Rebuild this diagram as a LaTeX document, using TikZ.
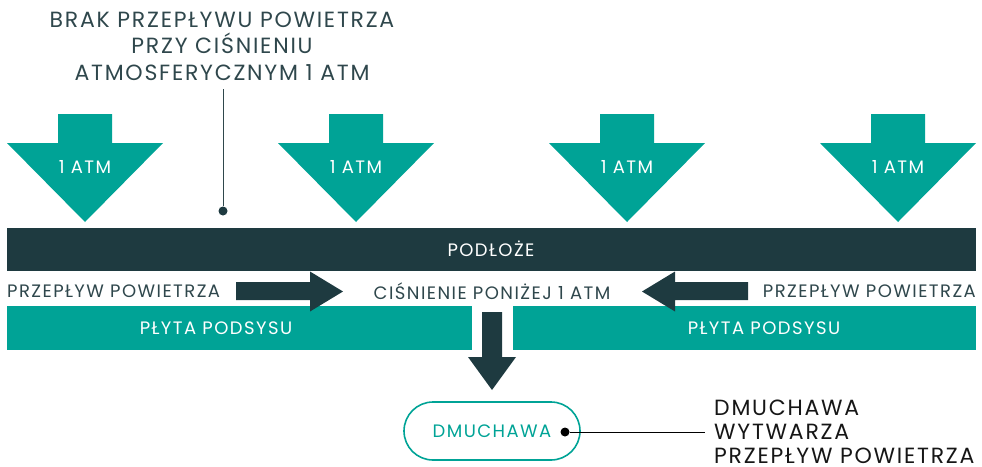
\documentclass[tikz,border=0pt]{standalone}
\usepackage{fontspec}
\setmainfont{Poppins}[LetterSpace=8]
\definecolor{slate}{HTML}{1E3A40}
\definecolor{teal}{HTML}{00A396}
\definecolor{labelgray}{HTML}{2F474C}
\definecolor{inkblack}{HTML}{161616}
\tikzset{
  darkfill/.style={fill=slate,draw=none},
  tealfill/.style={fill=teal,draw=none},
  whitelabel/.style={text=white,font=\fontsize{18}{21}\selectfont,inner sep=0pt},
  graylabel/.style={text=labelgray,font=\fontsize{18}{21}\selectfont,inner sep=0pt},
  callout/.style={align=center,text=labelgray,font=\fontsize{22}{26.5}\selectfont,inner sep=0pt},
  note/.style={align=left,text=inkblack,font=\fontsize{22}{24}\selectfont,inner sep=0pt},
  pill/.style={draw=teal,line width=1.6pt,rounded corners=29pt,minimum width=176pt,minimum height=58pt,text=teal,font=\fontsize{18}{21}\selectfont,inner sep=0pt},
  leader/.style={line width=0.9pt},
  pin/.style={circle,fill,inner sep=0pt,minimum size=9pt}
}
\begin{document}
\begin{tikzpicture}[x=1pt,y=-1pt]
\useasboundingbox (0,0) rectangle (982,466);

% atmospheric pressure arrows
\foreach \cx/\nm in {85/a1,356/a2,627/a3,898/a4}{
  \fill[teal] (\cx-27,114) -- (\cx+27,114) -- (\cx+27,143) -- (\cx+78,143)
    -- (\cx,222) -- (\cx-78,143) -- (\cx-27,143) -- cycle;
  \node[whitelabel] (\nm) at (\cx,167) {1 ATM};
}

% substrate
\fill[slate] (7,228) rectangle (976,271);
\node[whitelabel] (sub) at (491,249) {PODŁOŻE};

% suction plates
\fill[teal] (7,306) rectangle (472,350);
\fill[teal] (513,306) rectangle (976,350);
\node[whitelabel] (plL) at (216,328) {PŁYTA PODSYSU};
\node[whitelabel] (plR) at (764,328) {PŁYTA PODSYSU};

% air flow arrows
\fill[slate] (236,282) -- (310,282) -- (310,271.5) -- (343,291.5) -- (310,311.5)
  -- (310,300) -- (236,300) -- cycle;
\fill[slate] (748,282) -- (675,282) -- (675,271.5) -- (642,291.5) -- (675,311.5)
  -- (675,300) -- (748,300) -- cycle;
\node[graylabel,anchor=west] (flL) at (7,291) {PRZEPŁYW POWIETRZA};
\node[graylabel,anchor=east] (flR) at (976,291) {PRZEPŁYW POWIETRZA};
\node[graylabel] (low) at (492,291) {CIŚNIENIE PONIŻEJ 1 ATM};

% exhaust arrow to the blower
\fill[slate] (482,312) -- (502,312) -- (502,357) -- (516,357) -- (492,390)
  -- (468,357) -- (482,357) -- cycle;

% blower
\node[pill] (blower) at (492,431) {DMUCHAWA};
\node[pin] (bdot) at (565,432) {};
\coordinate (bend) at (705,432);
\draw[leader] (bdot) -- (bend);
\node[note,anchor=west] (bnote) at (714,432) {DMUCHAWA\\WYTWARZA\\PRZEPŁYW POWIETRZA};

% callout above the substrate
\node[callout] (top) at (222,46) {BRAK PRZEPŁYWU POWIETRZA\\PRZY CIŚNIENIU\\ATMOSFERYCZNYM 1 ATM};
\node[pin,fill=slate] (tdot) at (223,211) {};
\coordinate (tstart) at (223,89);
\draw[leader,draw=labelgray] (tstart) -- (tdot);
\end{tikzpicture}
\end{document}
